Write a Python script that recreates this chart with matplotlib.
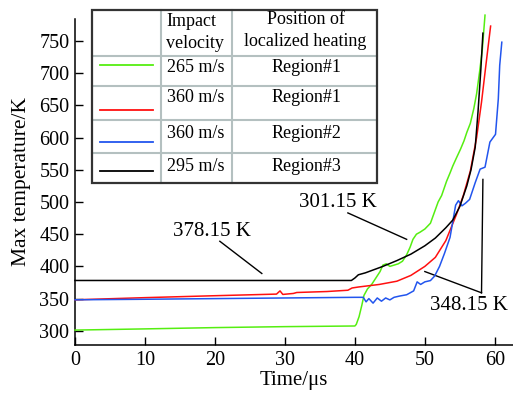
import matplotlib
matplotlib.use("Agg")
import matplotlib.pyplot as plt
from matplotlib.lines import Line2D
from matplotlib.patches import Rectangle

plt.rcParams['font.family'] = ['Liberation Serif', 'DejaVu Serif']
plt.rcParams['mathtext.fontset'] = 'stix'

# ---------------- data ----------------
green_t = [0, 10, 20, 30, 40, 40.2, 40.6, 41.0, 41.3, 41.8, 42.4, 43.0, 43.6, 44.0, 44.5, 45.0,
           45.6, 46.2, 46.8, 47.4, 47.9, 48.3, 48.8, 49.3, 50.0, 50.8, 51.3, 51.9, 52.4, 53.1,
           53.6, 54.0, 54.5, 55.1, 55.6, 56.0, 56.5, 57.0, 57.4, 57.8, 58.2, 58.6]
green_T = [301.15, 303, 305, 306.5, 307.5, 310, 322, 340, 355, 365, 372, 382, 392, 402, 404, 400,
           402, 404, 408, 418, 430, 442, 450, 453, 458, 467, 482, 500, 510, 532,
           545, 556, 568, 582, 595, 608, 622, 645, 668, 700, 735, 790]

black_t = [0, 39.5, 40.0, 40.5, 41.5, 42.5, 44.0, 46.0, 48.0, 50.0, 51.5, 53.0, 54.0, 55.0,
           56.0, 56.6, 57.2, 57.6, 58.0, 58.3]
black_T = [378.15, 378.15, 382, 387, 390, 394, 400, 409, 419, 432, 444, 460, 472, 493,
           525, 550, 585, 640, 705, 762]

red_t = [0, 10, 20, 28.8, 29.3, 29.7, 31.2, 31.7, 36, 39.0, 39.6, 40.5, 43.5, 46.0, 48.0, 50.0,
         51.5, 53.0, 54.5, 55.5, 56.5, 57.4, 58.1, 58.7, 59.4]
red_T = [348.15, 351.5, 354.5, 357, 362, 356.5, 358, 359.5, 361, 363, 366.5, 368, 372, 377, 386, 400,
         414, 440, 480, 510, 548, 600, 655, 710, 773]

blue_t = [0, 10, 20, 30, 40, 41.2, 41.6, 42.0, 42.6, 43.2, 43.8, 44.4, 45.0, 45.6, 46.4, 47.4,
          48.4, 48.9, 49.4, 50.0, 50.8, 51.4, 52.1, 52.8, 53.6, 54.4, 54.8, 55.3, 55.8, 56.4,
          57.2, 57.9, 58.6, 59.3, 60.1, 60.5, 60.7, 61.0]
blue_T = [348.15, 349, 350, 351, 352, 352, 345, 350, 343, 351, 346, 351, 348, 352, 354, 356,
          362, 376, 372, 376, 378, 385, 400, 420, 445, 495, 502, 494, 498, 504,
          530, 551, 554, 593, 605, 660, 712, 748]

velocities = ['265 m/s', '360 m/s', '360 m/s', '295 m/s']
regions = ['Region#1', 'Region#1', 'Region#2', 'Region#3']
colors = ['#55ee11', '#ff1010', '#2255ee', '#000000']

x_ticks = [0, 10, 20, 30, 40, 50, 60]
y_ticks = [300, 350, 400, 450, 500, 550, 600, 650, 700, 750]

# ---------------- figure ----------------
W, H = 513, 394
fig = plt.figure(figsize=(W / 100, H / 100), dpi=100)
ax = fig.add_axes([75 / W, 1 - 345 / H, (W - 75) / W, (345 - 19) / H])

series = [(green_t, green_T), (red_t, red_T), (blue_t, blue_T), (black_t, black_T)]
for (t, T), c in zip(series, colors):
    ax.plot(t, T, color=c, lw=1.1, clip_on=False, zorder=3)

ax.set_xlim(0, 62.6)
ax.set_ylim(278, 784)
ax.set_xticks(x_ticks)
ax.set_yticks(y_ticks)
ax.tick_params(direction='in', length=6, width=1, labelsize=14.5, pad=4)
for s in ['top', 'right']:
    ax.spines[s].set_visible(False)
for s in ['left', 'bottom']:
    ax.spines[s].set_linewidth(1.1)
ax.set_xlabel('Time/μs', fontsize=15, labelpad=1)
ax.set_ylabel('Max temperature/K', fontsize=15.5, labelpad=6)

# annotations
ax.text(19.6, 454, '378.15 K', fontsize=15, ha='center', va='center')
ax.plot([20.7, 26.7], [439, 389], color='black', lw=1)
ax.text(37.6, 499, '301.15 K', fontsize=15, ha='center', va='center')
ax.plot([39.0, 47.4], [483, 442], color='black', lw=1)
ax.text(56.3, 340, '348.15 K', fontsize=15, ha='center', va='center')
ax.plot([50.0, 58.1], [392, 359], color='black', lw=1, clip_on=False)
ax.plot([58.3, 58.1], [535, 359], color='black', lw=1, clip_on=False)

# ---------------- table legend ----------------
def fx(px):
    return px / W

def fy(py):
    return 1 - py / H

cols = [91.7, 161, 232.3, 376.7]
rows = [10, 55.7, 86, 120, 153.3, 182.7]

fig.add_artist(Rectangle((fx(cols[0]), fy(rows[-1])), fx(cols[-1]) - fx(cols[0]),
                         fy(rows[0]) - fy(rows[-1]), transform=fig.transFigure,
                         facecolor='white', edgecolor='none', zorder=5))
grid_c = '#b4c0c0'
for cx in cols[1:-1]:
    fig.add_artist(Line2D([fx(cx)] * 2, [fy(rows[0]), fy(rows[-1])], color=grid_c, lw=1.5, zorder=6))
for ry in rows[1:-1]:
    fig.add_artist(Line2D([fx(cols[0]), fx(cols[-1])], [fy(ry)] * 2, color=grid_c, lw=1.5, zorder=6))
fig.add_artist(Rectangle((fx(cols[0]), fy(rows[-1])), fx(cols[-1]) - fx(cols[0]),
                         fy(rows[0]) - fy(rows[-1]), transform=fig.transFigure,
                         facecolor='none', edgecolor='#333333', lw=1.6, zorder=7))

fig.text(fx(166), fy(21.5), 'Impact', fontsize=13, ha='left', va='center', zorder=8)
fig.text(fx(166), fy(43), 'velocity', fontsize=13, ha='left', va='center', zorder=8)
fig.text(fx(305.5), fy(20), 'Position of', fontsize=13, ha='center', va='center', zorder=8)
fig.text(fx(305.5), fy(41.5), 'localized heating', fontsize=13, ha='center', va='center', zorder=8)

sample_y = [65, 110, 141.7, 170.7]
text_y = [68, 98, 133, 166]
for i in range(4):
    fig.add_artist(Line2D([fx(100), fx(152.7)], [fy(sample_y[i])] * 2, color=colors[i], lw=1.3, zorder=8))
    fig.text(fx(167), fy(text_y[i]), velocities[i], fontsize=13, ha='left', va='center', zorder=8)
    fig.text(fx(306.5), fy(text_y[i]), regions[i], fontsize=13, ha='center', va='center', zorder=8)

fig.savefig('out.png', dpi=100)
